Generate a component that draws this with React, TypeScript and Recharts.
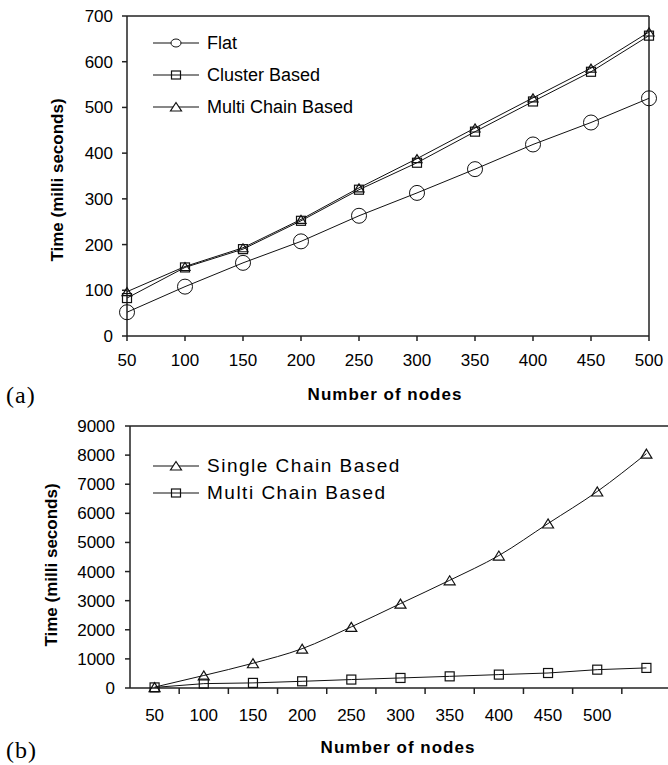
import React from 'react'
import { LineChart, Line, XAxis, YAxis, ReferenceLine, Legend } from 'recharts'

// (a) Flat / Cluster / Multi chain
const nodesA = [50, 100, 150, 200, 250, 300, 350, 400, 450, 500]
const flatA = [52, 108, 160, 207, 263, 313, 365, 419, 467, 520]
const clusterA = [83, 150, 190, 252, 320, 379, 447, 513, 578, 657]
const multiA = [97, 152, 193, 255, 324, 388, 455, 521, 586, 665]
const yTicksA = [0, 100, 200, 300, 400, 500, 600, 700]

// (b) Single chain vs multi chain (last point has no tick label)
const nodesB = ['50', '100', '150', '200', '250', '300', '350', '400', '450', '500', '']
const singleB = [30, 430, 850, 1350, 2100, 2900, 3700, 4550, 5650, 6750, 8050]
const multiB = [20, 150, 175, 230, 290, 345, 400, 460, 515, 630, 690]
const yTicksB = [0, 1000, 2000, 3000, 4000, 5000, 6000, 7000, 8000, 9000]

const dataA = nodesA.map((n, i) => ({ nodes: n, flat: flatA[i], cluster: clusterA[i], multi: multiA[i] }))
const dataB = nodesB.map((n, i) => ({ nodes: n, single: singleB[i], multi: multiB[i], idx: i }))

const FONT = '"Liberation Sans", Arial, sans-serif'
const INK = '#111'
const AXIS = '#222'

const circleDot = (r: number) => (props: any) => {
  const { cx, cy, index } = props
  return <circle key={`c-${index}`} cx={cx} cy={cy} r={r} fill="none" stroke={INK} strokeWidth={1} />
}
const squareDot = (s: number) => (props: any) => {
  const { cx, cy, index } = props
  return <rect key={`s-${index}`} x={cx - s / 2} y={cy - s / 2} width={s} height={s} fill="none" stroke={INK} strokeWidth={1.2} />
}
const triangleDot = (w: number, h: number) => (props: any) => {
  const { cx, cy, index } = props
  const pts = `${cx},${cy - h / 2} ${cx - w / 2},${cy + h / 2} ${cx + w / 2},${cy + h / 2}`
  return <polygon key={`t-${index}`} points={pts} fill="none" stroke={INK} strokeWidth={1.2} />
}

function Marker({ kind }: { kind: string }) {
  return (
    <svg width={46} height={14} style={{ marginRight: 8, flexShrink: 0 }}>
      <line x1={0} x2={46} y1={7} y2={7} stroke={INK} strokeWidth={1.2} />
      {kind === 'circle' && <ellipse cx={23} cy={7} rx={5} ry={4} fill="#fff" stroke={INK} />}
      {kind === 'square' && <rect x={18.5} y={3} width={9} height={8} fill="none" stroke={INK} strokeWidth={1.2} />}
      {kind === 'triangle' && <polygon points="23,2.5 17.5,11 28.5,11" fill="#fff" stroke={INK} strokeWidth={1.2} />}
    </svg>
  )
}

function LegendBox({ items, rowHeight, fontSize, spacing }: { items: { name: string; kind: string }[]; rowHeight: number; fontSize: number; spacing: number }) {
  return (
    <div style={{ fontFamily: FONT }}>
      {items.map((it) => (
        <div key={it.name} style={{ display: 'flex', alignItems: 'center', height: rowHeight, fontSize, letterSpacing: spacing, color: '#000', whiteSpace: 'nowrap' }}>
          <Marker kind={it.kind} />
          <span>{it.name}</span>
        </div>
      ))}
    </div>
  )
}

// category ticks sit between the bands in (b), labels in the middle
function TickB(props: any) {
  const { x, y, payload } = props
  const half = payload.offset ?? 0
  const axisY = y - 21
  return (
    <g>
      {payload.index > 0 && <line x1={x - half} x2={x - half} y1={axisY} y2={axisY + 6} stroke={AXIS} strokeWidth={1.5} />}
      <text x={x} y={y} dy="0.71em" textAnchor="middle" fontSize={17} fontFamily={FONT} fill="#000">{payload.value}</text>
    </g>
  )
}

const tickStyle = { fontSize: 17, fontFamily: FONT, fill: '#000' }

function Title({ text, x, y, rotate, size = 17, spacing = 0 }: { text: string; x: number; y: number; rotate?: boolean; size?: number; spacing?: number }) {
  return (
    <div style={{ position: 'absolute', left: x, top: y, transform: `translate(-50%, -50%)${rotate ? ' rotate(-90deg)' : ''}`, fontFamily: FONT, fontWeight: 'bold', fontSize: size, letterSpacing: spacing, whiteSpace: 'nowrap', color: '#000' }}>
      {text}
    </div>
  )
}

function Tag({ text, y }: { text: string; y: number }) {
  return (
    <div style={{ position: 'absolute', left: 6, top: y, transform: 'translateY(-50%)', fontFamily: '"Liberation Serif", "Times New Roman", serif', fontSize: 24, letterSpacing: 1, color: '#000' }}>
      {text}
    </div>
  )
}

export default function App() {
  return (
    <div style={{ position: 'fixed', left: 0, top: 0, width: 668, height: 765, overflow: 'hidden', background: '#fff' }}>
      <div style={{ position: 'absolute', left: 0, top: 0 }}>
        <LineChart width={690} height={410} data={dataA} margin={{ top: 16, right: 41, bottom: 44, left: 0 }}>
          <XAxis dataKey="nodes" scale="point" interval={0} height={30} tick={tickStyle} tickSize={5} tickMargin={13}
            axisLine={{ stroke: AXIS, strokeWidth: 1.5 }} tickLine={{ stroke: AXIS, strokeWidth: 1.5 }} />
          <YAxis domain={[0, 700]} ticks={yTicksA} interval={0} width={127} tick={tickStyle} tickSize={5} tickMargin={9}
            axisLine={{ stroke: AXIS, strokeWidth: 1.5 }} tickLine={{ stroke: AXIS, strokeWidth: 1.5 }} />
          <ReferenceLine y={700} stroke={AXIS} strokeWidth={1.5} />
          <ReferenceLine x={500} stroke={AXIS} strokeWidth={1.5} />
          <Line dataKey="flat" stroke={INK} strokeWidth={1} dot={circleDot(7.5)} isAnimationActive={false} />
          <Line dataKey="cluster" stroke={INK} strokeWidth={1} dot={squareDot(9)} isAnimationActive={false} />
          <Line dataKey="multi" stroke={INK} strokeWidth={1} dot={triangleDot(10, 8)} isAnimationActive={false} />
          <Legend layout="vertical" align="center" verticalAlign="middle"
            wrapperStyle={{ top: 27, left: 153, width: 'auto' }}
            content={() => (
              <LegendBox rowHeight={32} fontSize={18} spacing={0} items={[
                { name: 'Flat', kind: 'circle' },
                { name: 'Cluster Based', kind: 'square' },
                { name: 'Multi Chain Based', kind: 'triangle' },
              ]} />
            )} />
        </LineChart>
      </div>
      <Title text="Time (milli seconds)" x={58} y={180} rotate />
      <Title text="Number of nodes" x={385} y={395} spacing={1} />
      <Tag text="(a)" y={395} />

      <div style={{ position: 'absolute', left: 0, top: 410 }}>
        <LineChart width={680} height={355} data={dataB} margin={{ top: 16, right: 9, bottom: 37, left: 0 }}>
          <XAxis dataKey="idx" scale="band" interval={0} height={40} tickSize={6} tickMargin={15} tickLine={false}
            tickFormatter={(v: number) => nodesB[v]}
            tick={(p: any) => <TickB {...p} payload={{ ...p.payload, value: nodesB[p.payload.value] }} />}
            axisLine={{ stroke: AXIS, strokeWidth: 1.5 }} />
          <YAxis domain={[0, 9000]} ticks={yTicksB} interval={0} width={130} tick={tickStyle} tickSize={5} tickMargin={10}
            axisLine={{ stroke: AXIS, strokeWidth: 1.5 }} tickLine={{ stroke: AXIS, strokeWidth: 1.5 }} />
          <ReferenceLine y={9000} stroke={AXIS} strokeWidth={1.5} />
          <Line dataKey="single" type="monotone" stroke={INK} strokeWidth={1} dot={triangleDot(11, 9)} isAnimationActive={false} />
          <Line dataKey="multi" stroke={INK} strokeWidth={1} dot={squareDot(9)} isAnimationActive={false} />
          <Legend layout="vertical" align="center" verticalAlign="middle"
            wrapperStyle={{ top: 42, left: 153, width: 'auto' }}
            content={() => (
              <LegendBox rowHeight={27} fontSize={19} spacing={1.5} items={[
                { name: 'Single Chain Based', kind: 'triangle' },
                { name: 'Multi Chain Based', kind: 'square' },
              ]} />
            )} />
        </LineChart>
      </div>
      <Title text="Time (milli seconds)" x={52} y={565} rotate />
      <Title text="Number of nodes" x={398} y={748} spacing={1} />
      <Tag text="(b)" y={750} />
    </div>
  )
}
